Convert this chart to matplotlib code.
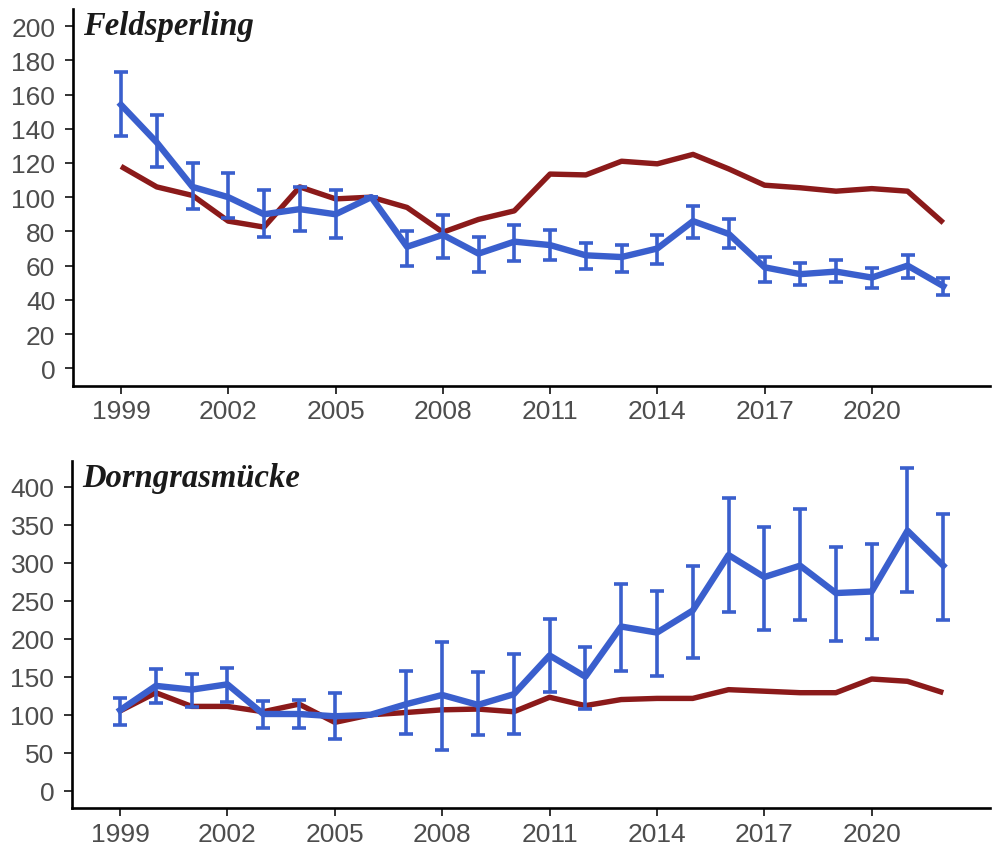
import matplotlib
matplotlib.use("Agg")
import matplotlib.pyplot as plt
import numpy as np

years = list(range(1999, 2023))

# Feldsperling: local index (blue, with error bars) and reference index (red)
feld_blue = [154, 132, 106, 100, 90, 93, 90, 100, 71, 78, 67, 74, 72, 66, 65, 70,
             86, 78.5, 59, 55, 56.5, 53, 60, 48]
feld_blue_hi = [173, 148, 120, 114, 104, 106, 104, 100, 80, 89.5, 76.5, 84, 81, 73.5, 72, 78,
                95, 87, 65, 61.5, 63.5, 58.5, 66, 53]
feld_blue_lo = [136, 117.5, 93, 88, 77, 80, 76, 100, 59.5, 64.5, 56.5, 62.5, 63, 58, 56, 61,
                76, 70, 50.5, 48.5, 50.5, 47, 53, 43]
feld_red = [118, 106, 101, 86, 82.5, 106, 99, 100, 94, 79.5, 87, 92, 113.5, 113, 121, 119.5,
            125, 116.5, 107, 105.5, 103.5, 105, 103.5, 85]

# Dorngrasmücke
dorn_blue = [106, 138, 133, 140, 101, 101, 98, 100, 114, 126, 113, 127, 178, 150, 216, 208,
             237, 310, 281, 296, 260, 262, 342, 296]
dorn_blue_hi = [122, 160, 153, 162, 118, 120, 129, 100, 157, 195, 156, 180, 226, 189, 272, 263,
                295, 385, 347, 370, 321, 325, 424, 364]
dorn_blue_lo = [87, 116, 110, 117, 82, 83, 68, 100, 75, 54, 73, 75, 130, 108, 157, 151,
                175, 235, 211, 224, 197, 200, 261, 224]
dorn_red = [105, 129, 111, 111, 104, 114, 90, 100, 103, 106.5, 107.5, 104, 123, 112, 120, 121.5,
            121.5, 133, 131, 129, 129, 147, 144, 129]

xticks = [1999, 2002, 2005, 2008, 2011, 2014, 2017, 2020]

BLUE = "#3A5FCD"
RED = "#8B1A1A"
TICK_GREY = "#4D4D4D"

fig = plt.figure(figsize=(9.99, 8.54), dpi=100)
ax1 = fig.add_axes([0.0728, 0.5468, 0.918, 0.4415])
ax2 = fig.add_axes([0.0718, 0.0523, 0.919, 0.4071])


def panel(ax, title, red, blue, lo, hi, ylim, yticks):
    ax.plot(years, red, color=RED, lw=3.9, solid_capstyle="butt", zorder=2)
    blue = np.array(blue)
    yerr = np.vstack([blue - np.array(lo), np.array(hi) - blue])
    ax.errorbar(years, blue, yerr=yerr, color=BLUE, lw=4.6, elinewidth=2.6,
                capsize=5, capthick=2.6, zorder=3)
    ax.set_xlim(1997.65, 2023.3)
    ax.set_ylim(*ylim)
    ax.set_yticks(yticks)
    ax.set_xticks(xticks)
    for s in ("top", "right"):
        ax.spines[s].set_visible(False)
    for s in ("left", "bottom"):
        ax.spines[s].set_linewidth(1.9)
        ax.spines[s].set_color("black")
    ax.tick_params(axis="both", length=5.5, width=1.4, color="#333333",
                   labelsize=19, labelcolor=TICK_GREY)
    ax.tick_params(axis="y", pad=7)
    ax.tick_params(axis="x", pad=4)
    for lab in ax.get_xticklabels() + ax.get_yticklabels():
        lab.set_family("Liberation Sans")
    ax.text(0.011, 0.997, title, transform=ax.transAxes, ha="left", va="top",
            fontsize=23.5, fontweight="bold", fontstyle="italic",
            family="Liberation Serif", color="#1a1a1a")


panel(ax1, "Feldsperling", feld_red, feld_blue, feld_blue_lo, feld_blue_hi,
      (-10.4, 210), list(range(0, 201, 20)))
panel(ax2, "Dorngrasmücke", dorn_red, dorn_blue, dorn_blue_lo, dorn_blue_hi,
      (-23, 434), list(range(0, 401, 50)))

fig.savefig("out.png", dpi=100, facecolor="white")
